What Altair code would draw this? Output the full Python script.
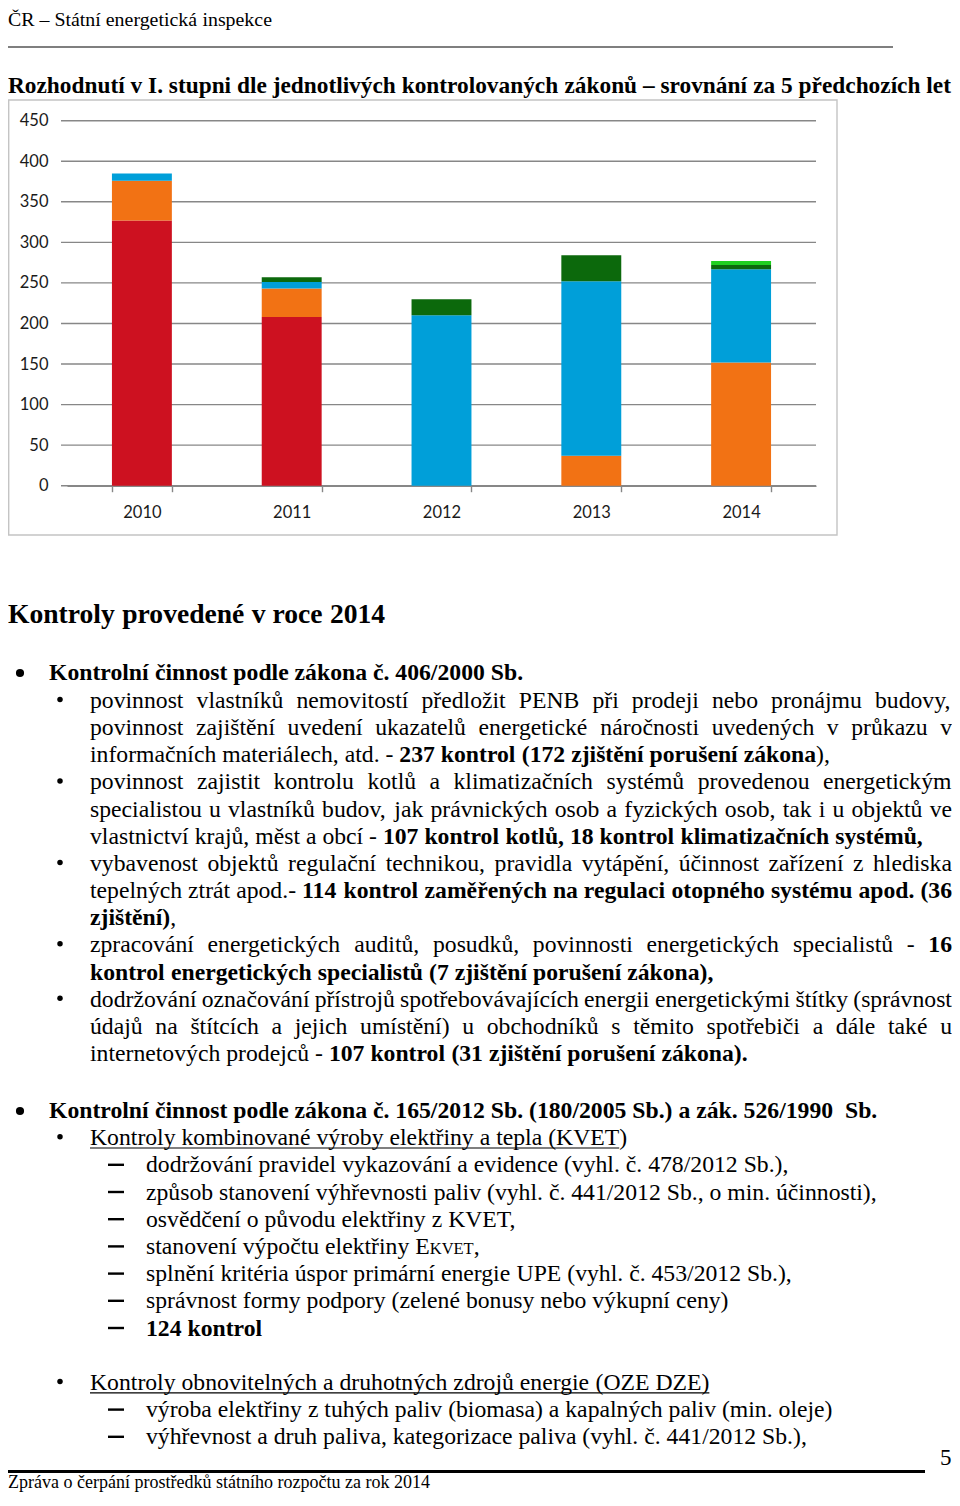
import unicodedata
import altair as alt
import pandas as pd

# ---------------- chart data ----------------
years = ["2010", "2011", "2012", "2013", "2014"]
series = ["zák. 406/2000 Sb. (a)", "zák. 406/2000 Sb. (b)", "zák. 406/2000 Sb. (c)",
          "zák. 165/2012 Sb.", "zák. 526/1990 Sb."]
s_red = [327, 208, 0, 0, 0]
s_orange = [49, 35, 0, 37, 152]
s_blue = [9, 8, 210, 215, 115]
s_dkgreen = [0, 6, 20, 32, 5]
s_ltgreen = [0, 0, 0, 0, 5]
y_ticks = [0, 50, 100, 150, 200, 250, 300, 350, 400, 450]
series_colors = ["#CD1120", "#F27214", "#009FD9", "#0C690C", "#20D020"]

# ---------------- page layout helpers ----------------
W, H = 944, 1484          # view size (fits the 960x1506 page with its 8px margin)
OFF = 8                   # page margin
RIGHT = 952.0             # right edge of justified text (page coords)

_low = "abcdefghijklmnopqrstuvwxyz"
_up = "ABCDEFGHIJKLMNOPQRSTUVWXYZ"
TR = dict(zip(_low, [444, 500, 444, 500, 444, 333, 500, 500, 278, 278, 500, 278, 778,
                     500, 500, 500, 500, 333, 389, 278, 500, 500, 722, 500, 500, 444]))
TR.update(zip(_up, [722, 667, 667, 722, 611, 556, 722, 722, 333, 389, 722, 611, 889,
                    722, 722, 556, 722, 667, 556, 611, 722, 722, 944, 722, 722, 611]))
TB = dict(zip(_low, [500, 556, 444, 556, 444, 333, 500, 556, 278, 333, 556, 278, 833,
                     556, 500, 556, 556, 444, 389, 333, 556, 500, 722, 500, 500, 444]))
TB.update(zip(_up, [722, 667, 722, 722, 667, 611, 778, 778, 389, 500, 778, 667, 944,
                    722, 778, 611, 778, 722, 556, 667, 722, 722, 1000, 722, 722, 667]))
for t, colon in ((TR, 278), (TB, 333)):
    t.update({" ": 250, ",": 250, ".": 250, "-": 333, "/": 278, "(": 333, ")": 333,
              ":": colon, "–": 500, "•": 350})
    t.update({d: 500 for d in "0123456789"})

BOLD_STYLES = {"bold", "title", "head"}


def em_width(s, style):
    tab = TB if style in BOLD_STYLES else TR
    tot = 0
    for c in s:
        b = unicodedata.normalize("NFD", c)[0]
        tot += tab.get(c, tab.get(b, 500))
    return tot / 1000.0


hdr_text = "ČR – Státní energetická inspekce"
title_text = "Rozhodnutí v I. stupni dle jednotlivých kontrolovaných zákonů – srovnání za 5 předchozích let"
foot_text = "Zpráva o čerpání prostředků státního rozpočtu za rok 2014"

SIZE = {"reg": 23.7, "bold": 23.7, "head": 27.6, "small": 16.5, "num": 23.0,
        "hdr": 264 / em_width(hdr_text, "hdr"),
        "title": 943 / em_width(title_text, "title"),
        "foot": 422 / em_width(foot_text, "foot")}

text_rows = []
underlines = []


def place(runs, x0, y, justify=False, right=RIGHT, underline=False):
    words = [[]]
    for txt, st in runs:
        parts = txt.split(" ")
        for i, p in enumerate(parts):
            if i > 0:
                words.append([])
            if p:
                words[-1].append((p, st))
    while words and not words[-1]:
        words.pop()
    wlen = [sum(em_width(p, st) * SIZE[st] for p, st in w) for w in words]
    gap = 0.25 * SIZE[runs[0][1]]
    if justify and len(words) > 1:
        gap = (right - x0 - sum(wlen)) / (len(words) - 1)
    x = x0
    ul_end = x0
    for w, L in zip(words, wlen):
        xx = x
        for p, st in w:
            text_rows.append({"px": max(xx - OFF, 0), "py": y - OFF, "text": p, "style": st})
            xx += em_width(p, st) * SIZE[st]
        x = xx + gap
        ul_end = xx
    if underline:
        underlines.append({"x1": x0 - OFF, "x2": ul_end - OFF, "y": y + 2.8 - OFF})
    return ul_end


# header / title / heading / footer
place([(hdr_text, "hdr")], 8, 25.5)
place([(title_text, "title")], 8, 93)
place([("Kontroly provedené v roce 2014", "head")], 8, 623)
place([(foot_text, "foot")], 8, 1487.5)
place([("5", "num")], 940, 1465)

# body, section 406/2000
b0, st = 708.0, 27.15
bl = [b0 + st * k for k in range(14)]
place([("Kontrolní činnost podle zákona č. 406/2000 Sb.", "bold")], 49, 680)
place([("povinnost vlastníků nemovitostí předložit PENB při prodeji nebo pronájmu budovy,", "reg")], 90, bl[0], True)
place([("povinnost zajištění uvedení ukazatelů energetické náročnosti uvedených v průkazu v", "reg")], 90, bl[1], True)
place([("informačních materiálech, atd. - ", "reg"), ("237 kontrol (172 zjištění porušení zákona", "bold"),
       ("),", "reg")], 90, bl[2])
place([("povinnost zajistit kontrolu kotlů a klimatizačních systémů provedenou energetickým", "reg")], 90, bl[3], True)
place([("specialistou u vlastníků budov, jak právnických osob a fyzických osob, tak i u objektů ve", "reg")], 90, bl[4], True)
place([("vlastnictví krajů, měst a obcí - ", "reg"),
       ("107 kontrol kotlů, 18 kontrol klimatizačních systémů,", "bold")], 90, bl[5])
place([("vybavenost objektů regulační technikou, pravidla vytápění, účinnost zařízení z hlediska", "reg")], 90, bl[6], True)
place([("tepelných ztrát apod.- ", "reg"),
       ("114 kontrol zaměřených na regulaci otopného systému apod. (36", "bold")], 90, bl[7], True)
place([("zjištění)", "bold"), (",", "reg")], 90, bl[8])
place([("zpracování energetických auditů, posudků, povinnosti energetických specialistů - ", "reg"),
       ("16", "bold")], 90, bl[9], True)
place([("kontrol energetických specialistů (7 zjištění porušení zákona),", "bold")], 90, bl[10])
place([("dodržování označování přístrojů spotřebovávajících energii energetickými štítky (správnost", "reg")], 90, bl[11], True)
place([("údajů na štítcích a jejich umístění) u obchodníků s těmito spotřebiči a dále také u", "reg")], 90, bl[12], True)
place([("internetových prodejců - ", "reg"), ("107 kontrol (31 zjištění porušení zákona).", "bold")], 90, bl[13])

# section 165/2012
c0 = 1118.0
cl = [c0 + 27.2 * k for k in range(13)]
place([("Kontrolní činnost podle zákona č. 165/2012 Sb. (180/2005 Sb.) a zák. 526/1990  Sb.", "bold")], 49, cl[0])
e = place([("Kontroly kombinované výroby elektřiny a tepla (KVET", "reg")], 90, cl[1], underline=True)
place([(")", "reg")], e, cl[1])
place([("dodržování pravidel vykazování a evidence (vyhl. č. 478/2012 Sb.),", "reg")], 146, cl[2])
place([("způsob stanovení výhřevnosti paliv (vyhl. č. 441/2012 Sb., o min. účinnosti),", "reg")], 146, cl[3])
place([("osvědčení o původu elektřiny z KVET,", "reg")], 146, cl[4])
place([("stanovení výpočtu elektřiny E", "reg"), ("KVET", "small"), (",", "reg")], 146, cl[5])
place([("splnění kritéria úspor primární energie UPE (vyhl. č. 453/2012 Sb.),", "reg")], 146, cl[6])
place([("správnost formy podpory (zelené bonusy nebo výkupní ceny)", "reg")], 146, cl[7])
place([("124 kontrol", "bold")], 146, cl[8])
place([("Kontroly obnovitelných a druhotných zdrojů energie (OZE DZE)", "reg")], 90, cl[10], underline=True)
place([("výroba elektřiny z tuhých paliv (biomasa) a kapalných paliv (min. oleje)", "reg")], 146, cl[11])
place([("výhřevnost a druh paliva, kategorizace paliva (vyhl. č. 441/2012 Sb.),", "reg")], 146, cl[12])

text_df = pd.DataFrame(text_rows)

bullets = [(20, 680 - 7, 66)] + [(20, cl[0] - 7, 66)]
bullets += [(60, y - 8.5, 30) for y in (bl[0], bl[3], bl[6], bl[9], bl[11], cl[1], cl[10])]
bullet_df = pd.DataFrame([{"px": x - OFF, "py": y - OFF, "s": s} for x, y, s in bullets])

dash_df = pd.DataFrame([{"x1": 108 - OFF, "x2": 124 - OFF, "y": y - 7.6 - OFF}
                        for y in cl[2:9] + cl[11:13]])
thin_df = pd.DataFrame(underlines + [{"x1": 0, "x2": 893 - OFF, "y": 47 - OFF}])
thick_df = pd.DataFrame([{"x1": 0, "x2": 925 - OFF, "y": 1471.5 - OFF}])

# ---------------- bar chart ----------------
rows = []
for k, (name, vals) in enumerate(zip(series, [s_red, s_orange, s_blue, s_dkgreen, s_ltgreen])):
    for yr, v in zip(years, vals):
        if v > 0:
            rows.append({"year": yr, "series": name, "value": v, "k": k})
bar_df = pd.DataFrame(rows)

Y0, Y450 = 485.7 - OFF, 120.7 - OFF
X0, X1 = 67 - OFF, 816 - OFF
GRAY = "#878787"
xs = alt.Scale(domain=years, range=[X0, X1], paddingInner=0.6, paddingOuter=0.3)
ys = alt.Scale(domain=[0, 450], range=[Y0, Y450])

grid = alt.Chart(pd.DataFrame({"tick": y_ticks})).mark_rule(color=GRAY, strokeWidth=1.4).encode(
    y=alt.Y("tick:Q", scale=ys, axis=None),
    x=alt.value(X0 - 6), x2=alt.value(X1))

bars = alt.Chart(bar_df).mark_bar().encode(
    x=alt.X("year:N", scale=xs, title=None,
            axis=alt.Axis(orient="bottom", offset=-(H - Y0), tickBand="extent", tickSize=6,
                          tickColor=GRAY, tickWidth=1.4, domainColor=GRAY, domainWidth=1.4,
                          labelFont="Lato", labelFontSize=16.5, labelColor="#1a1a1a",
                          labelPadding=13, labelAngle=0, grid=False)),
    y=alt.Y("value:Q", stack="zero", scale=ys, title=None,
            axis=alt.Axis(orient="left", offset=-X0, values=y_ticks, ticks=False, tickSize=0,
                          domain=False, grid=False, labelFont="Lato", labelFontSize=16.5,
                          labelColor="#1a1a1a", labelPadding=19)),
    color=alt.Color("series:N", scale=alt.Scale(domain=series, range=series_colors), legend=None),
    order=alt.Order("k:Q", sort="ascending"),
)

frame = alt.Chart(pd.DataFrame({"k": [0]})).mark_rect(
    fillOpacity=0, stroke="#c4c4c4", strokeWidth=1.4).encode(
    x=alt.value(0.7), x2=alt.value(837 - OFF), y=alt.value(100 - OFF), y2=alt.value(535 - OFF))

# ---------------- page text layers ----------------
def pos(ch, f):
    return ch(f, scale=None, axis=None)


text_layers = []
for style, sub in text_df.groupby("style"):
    text_layers.append(
        alt.Chart(sub).mark_text(
            font="Liberation Serif", fontSize=SIZE[style],
            fontWeight="bold" if style in BOLD_STYLES else "normal",
            align="left", baseline="alphabetic", color="black").encode(
            x=pos(alt.X, "px:Q"), y=pos(alt.Y, "py:Q"), text="text:N"))

bullet_layer = alt.Chart(bullet_df).mark_circle(color="black", opacity=1).encode(
    x=pos(alt.X, "px:Q"), y=pos(alt.Y, "py:Q"), size=alt.Size("s:Q", scale=None, legend=None))


def rule_layer(df, w):
    return alt.Chart(df).mark_rule(color="black", strokeWidth=w).encode(
        x=pos(alt.X, "x1:Q"), x2="x2:Q", y=pos(alt.Y, "y:Q"))


chart = alt.layer(
    frame, grid, bars, *text_layers, bullet_layer,
    rule_layer(dash_df, 2.4), rule_layer(thin_df, 1.2), rule_layer(thick_df, 3.2),
).resolve_scale(x="independent", y="independent").properties(
    width=W, height=H, padding=0,
    autosize=alt.AutoSizeParams(type="none"),
).configure_view(strokeOpacity=0)

chart.save("out.html", embed_options={"renderer": "svg", "actions": False})
